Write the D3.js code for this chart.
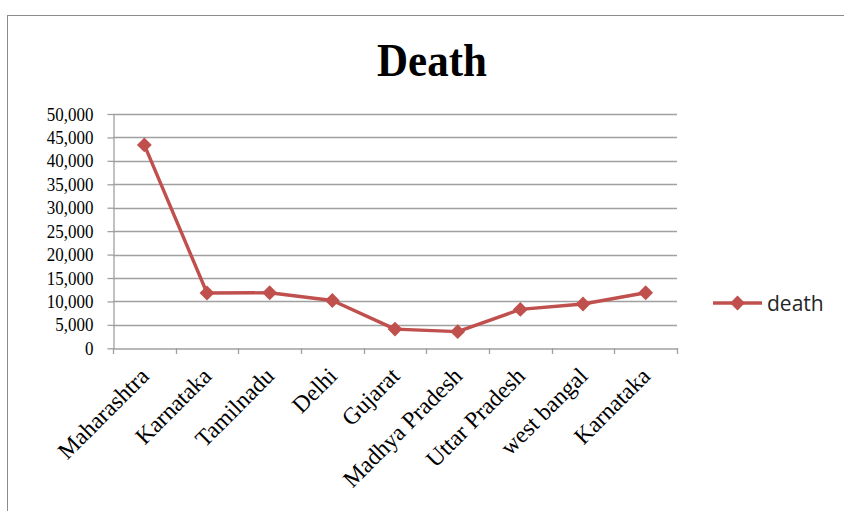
<!DOCTYPE html>
<html><head><meta charset="utf-8">
<script src="https://cdn.jsdelivr.net/npm/d3@7"></script>
<style>body{margin:0;background:#fff}svg{display:block}</style>
</head><body>
<script>
const categories = ["Maharashtra","Karnataka","Tamilnadu","Delhi","Gujarat","Madhya Pradesh","Uttar Pradesh","west bangal","Karnataka"];
const deaths = [43400, 11800, 11850, 10200, 4100, 3550, 8300, 9450, 11850];
const yTicks = [0,5000,10000,15000,20000,25000,30000,35000,40000,45000,50000];
const seriesName = "death";
const title = "Death";

const W = 844, H = 511;
const svg = d3.select("body").append("svg").attr("width", W).attr("height", H);
svg.append("rect").attr("x",7.5).attr("y",15.5).attr("width",W).attr("height",H).attr("fill","#fff").attr("stroke","#8c8c8c").attr("stroke-width",1);

const m = {left:113, right:677, top:114, bottom:348.3};
const idx = categories.map((d,i)=>i);
const x = d3.scaleBand().domain(idx).range([m.left,m.right]);
const y = d3.scaleLinear().domain([0,50000]).range([m.bottom,m.top]);

// gridlines
svg.append("g").selectAll("line").data(yTicks.filter(d=>d>0)).join("line")
  .attr("x1",m.left).attr("x2",m.right).attr("y1",d=>Math.round(y(d))+0.5).attr("y2",d=>Math.round(y(d))+0.5)
  .attr("stroke","#a0a0a0").attr("stroke-width",1.3);

// y axis
const ya = svg.append("g").attr("transform",`translate(${m.left+0.5},0)`)
  .call(d3.axisLeft(y).tickValues(yTicks).tickSize(6).tickSizeOuter(0).tickFormat(d3.format(",")));
ya.select(".domain").attr("stroke","#a0a0a0").attr("stroke-width",1.3);
ya.selectAll(".tick line").attr("stroke","#a0a0a0").attr("stroke-width",1.3);
ya.selectAll("text").attr("font-family","'Liberation Serif', serif").attr("font-size",17).attr("fill","#000").attr("x",-20)
  .attr("transform","scale(1,1.12)");

// x axis
const xa = svg.append("g").attr("transform",`translate(0,${Math.round(m.bottom)+0.5})`)
  .call(d3.axisBottom(x).tickSize(0).tickFormat(i=>categories[i]));
xa.select(".domain").attr("stroke","#a0a0a0").attr("stroke-width",1.3);
xa.selectAll(".tick text").attr("font-family","'Liberation Serif', serif").attr("font-size",23.5).attr("fill","#000")
  .attr("text-anchor","end").attr("dy",0).attr("y",0)
  .attr("transform","translate(6,29) rotate(-45)");
// category boundary ticks
svg.append("g").selectAll("line").data(d3.range(categories.length+1)).join("line")
  .attr("x1",i=>Math.round(m.left + i*x.step())+0.5).attr("x2",i=>Math.round(m.left + i*x.step())+0.5)
  .attr("y1",Math.round(m.bottom)).attr("y2",Math.round(m.bottom)+6)
  .attr("stroke","#a0a0a0").attr("stroke-width",1.3);

const color = "#C0504D";
const cx = i=>x(i)+x.bandwidth()/2;
svg.append("path").datum(deaths)
  .attr("d", d3.line().x((d,i)=>cx(i)).y(d=>y(d)))
  .attr("fill","none").attr("stroke",color).attr("stroke-width",3.4).attr("stroke-linejoin","round");
const diamond = d3.symbol().type(d3.symbolDiamond2).size(140);
svg.append("g").selectAll("path").data(deaths).join("path")
  .attr("d", diamond).attr("transform",(d,i)=>`translate(${cx(i)},${y(d)})`)
  .attr("fill",color);

// title
svg.append("text").attr("transform","translate(432,76) scale(1,1.1)").attr("text-anchor","middle")
  .attr("font-family","'Liberation Serif', serif").attr("font-weight","bold").attr("font-size",43).text(title);

// legend
const lg = svg.append("g").attr("transform","translate(713,303)");
lg.append("line").attr("x1",0).attr("x2",49).attr("stroke",color).attr("stroke-width",3.4);
lg.append("path").attr("d",diamond).attr("transform","translate(24.5,0)").attr("fill",color);
lg.append("text").attr("x",54).attr("y",8).attr("font-family","'Open Sans', 'DejaVu Sans', sans-serif").attr("font-size",21).attr("fill","#262626").text(seriesName);
</script>
</body></html>
